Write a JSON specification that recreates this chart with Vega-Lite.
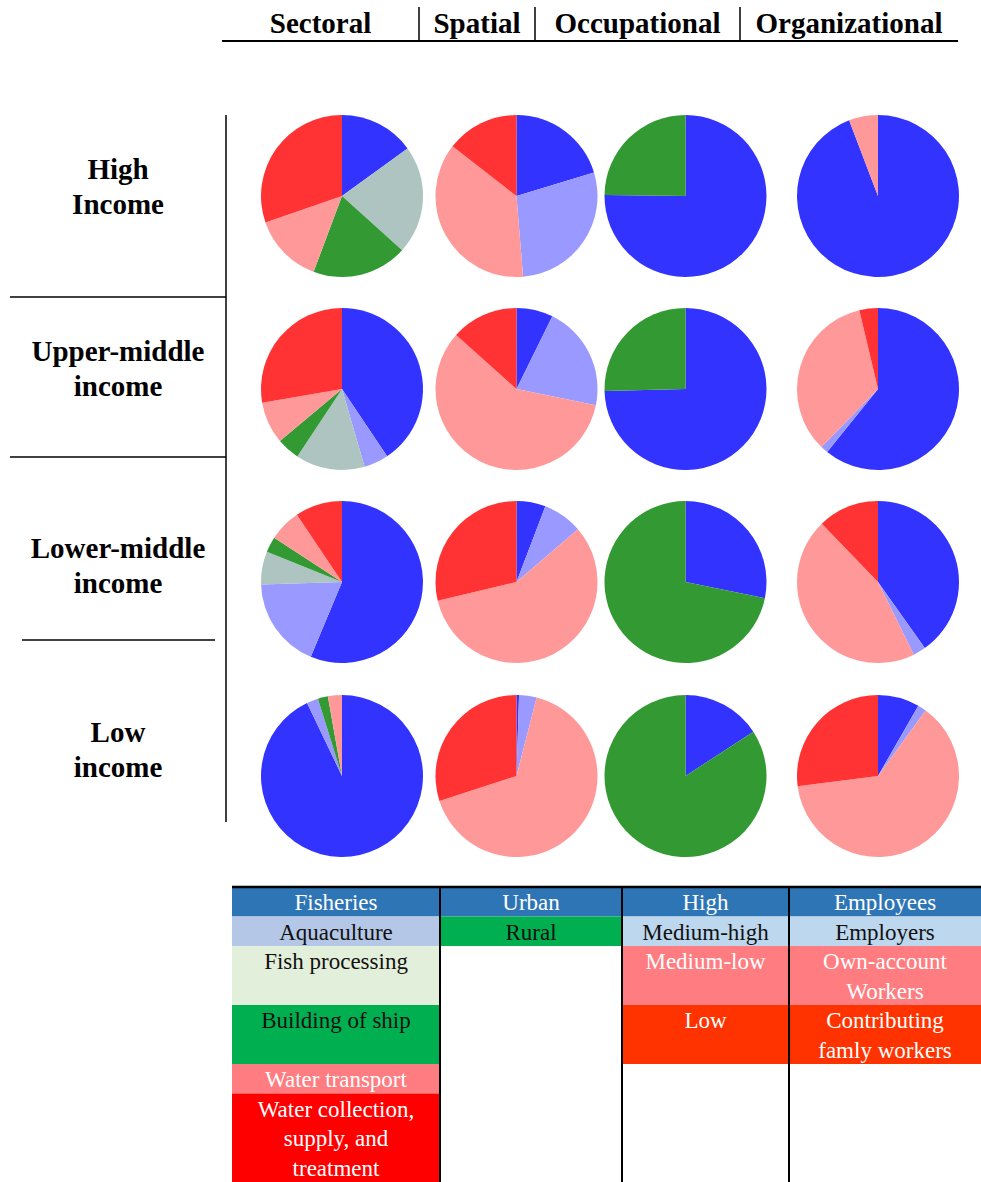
{
  "$schema": "https://vega.github.io/schema/vega-lite/v6.json",
  "width": 981,
  "height": 1182,
  "padding": 0,
  "autosize": {"type": "none"},
  "background": "white",
  "config": {"view": {"stroke": null}},
  "datasets": {
    "dims": [
      {"dimension": "Sectoral", "col": 0, "colEnd": 1},
      {"dimension": "Spatial", "col": 1, "colEnd": 2},
      {"dimension": "Occupational", "col": 2, "colEnd": 3},
      {"dimension": "Organizational", "col": 3, "colEnd": 4}
    ],
    "incomes": [
      {"income": "High Income", "row": 0},
      {"income": "Upper-middle income", "row": 1},
      {"income": "Lower-middle income", "row": 2},
      {"income": "Low income", "row": 3}
    ],
    "pies": [
      {"income": "High Income", "dimension": "Sectoral", "series": "S1", "share": 15},
      {"income": "High Income", "dimension": "Sectoral", "series": "S3", "share": 21.7},
      {"income": "High Income", "dimension": "Sectoral", "series": "S4", "share": 19},
      {"income": "High Income", "dimension": "Sectoral", "series": "S5", "share": 14},
      {"income": "High Income", "dimension": "Sectoral", "series": "S6", "share": 30.3},
      {"income": "High Income", "dimension": "Spatial", "series": "S1", "share": 20.3},
      {"income": "High Income", "dimension": "Spatial", "series": "S2", "share": 28.4},
      {"income": "High Income", "dimension": "Spatial", "series": "S5", "share": 36.8},
      {"income": "High Income", "dimension": "Spatial", "series": "S6", "share": 14.5},
      {"income": "High Income", "dimension": "Occupational", "series": "S1", "share": 75.2},
      {"income": "High Income", "dimension": "Occupational", "series": "S4", "share": 24.8},
      {"income": "High Income", "dimension": "Organizational", "series": "S1", "share": 94.2},
      {"income": "High Income", "dimension": "Organizational", "series": "S5", "share": 5.8},
      {"income": "Upper-middle income", "dimension": "Sectoral", "series": "S1", "share": 40.6},
      {"income": "Upper-middle income", "dimension": "Sectoral", "series": "S2", "share": 4.9},
      {"income": "Upper-middle income", "dimension": "Sectoral", "series": "S3", "share": 13.8},
      {"income": "Upper-middle income", "dimension": "Sectoral", "series": "S4", "share": 4.6},
      {"income": "Upper-middle income", "dimension": "Sectoral", "series": "S5", "share": 8.4},
      {"income": "Upper-middle income", "dimension": "Sectoral", "series": "S6", "share": 27.7},
      {"income": "Upper-middle income", "dimension": "Spatial", "series": "S1", "share": 7.3},
      {"income": "Upper-middle income", "dimension": "Spatial", "series": "S2", "share": 20.9},
      {"income": "Upper-middle income", "dimension": "Spatial", "series": "S5", "share": 58.4},
      {"income": "Upper-middle income", "dimension": "Spatial", "series": "S6", "share": 13.4},
      {"income": "Upper-middle income", "dimension": "Occupational", "series": "S1", "share": 74.6},
      {"income": "Upper-middle income", "dimension": "Occupational", "series": "S4", "share": 25.4},
      {"income": "Upper-middle income", "dimension": "Organizational", "series": "S1", "share": 60.8},
      {"income": "Upper-middle income", "dimension": "Organizational", "series": "S2", "share": 1.5},
      {"income": "Upper-middle income", "dimension": "Organizational", "series": "S5", "share": 34},
      {"income": "Upper-middle income", "dimension": "Organizational", "series": "S6", "share": 3.7},
      {"income": "Lower-middle income", "dimension": "Sectoral", "series": "S1", "share": 56.3},
      {"income": "Lower-middle income", "dimension": "Sectoral", "series": "S2", "share": 18.2},
      {"income": "Lower-middle income", "dimension": "Sectoral", "series": "S3", "share": 6.6},
      {"income": "Lower-middle income", "dimension": "Sectoral", "series": "S4", "share": 3.1},
      {"income": "Lower-middle income", "dimension": "Sectoral", "series": "S5", "share": 6.4},
      {"income": "Lower-middle income", "dimension": "Sectoral", "series": "S6", "share": 9.4},
      {"income": "Lower-middle income", "dimension": "Spatial", "series": "S1", "share": 5.8},
      {"income": "Lower-middle income", "dimension": "Spatial", "series": "S2", "share": 7.9},
      {"income": "Lower-middle income", "dimension": "Spatial", "series": "S5", "share": 57.6},
      {"income": "Lower-middle income", "dimension": "Spatial", "series": "S6", "share": 28.7},
      {"income": "Lower-middle income", "dimension": "Occupational", "series": "S1", "share": 28.2},
      {"income": "Lower-middle income", "dimension": "Occupational", "series": "S4", "share": 71.8},
      {"income": "Lower-middle income", "dimension": "Organizational", "series": "S1", "share": 40.2},
      {"income": "Lower-middle income", "dimension": "Organizational", "series": "S2", "share": 2.5},
      {"income": "Lower-middle income", "dimension": "Organizational", "series": "S5", "share": 45.1},
      {"income": "Lower-middle income", "dimension": "Organizational", "series": "S6", "share": 12.2},
      {"income": "Low income", "dimension": "Sectoral", "series": "S1", "share": 92.9},
      {"income": "Low income", "dimension": "Sectoral", "series": "S2", "share": 2.3},
      {"income": "Low income", "dimension": "Sectoral", "series": "S4", "share": 2.0},
      {"income": "Low income", "dimension": "Sectoral", "series": "S5", "share": 2.8},
      {"income": "Low income", "dimension": "Spatial", "series": "S1", "share": 0.5},
      {"income": "Low income", "dimension": "Spatial", "series": "S2", "share": 3.5},
      {"income": "Low income", "dimension": "Spatial", "series": "S5", "share": 66},
      {"income": "Low income", "dimension": "Spatial", "series": "S6", "share": 30},
      {"income": "Low income", "dimension": "Occupational", "series": "S1", "share": 15.8},
      {"income": "Low income", "dimension": "Occupational", "series": "S4", "share": 84.2},
      {"income": "Low income", "dimension": "Organizational", "series": "S1", "share": 8.3},
      {"income": "Low income", "dimension": "Organizational", "series": "S2", "share": 1.7},
      {"income": "Low income", "dimension": "Organizational", "series": "S5", "share": 63},
      {"income": "Low income", "dimension": "Organizational", "series": "S6", "share": 27}
    ],
    "legend": [
      {"dimension": "Sectoral", "item": "Fisheries", "start": 0, "end": 1},
      {"dimension": "Sectoral", "item": "Aquaculture", "start": 1, "end": 2},
      {"dimension": "Sectoral", "item": "Fish processing", "start": 2, "end": 4},
      {"dimension": "Sectoral", "item": "Building of ship", "start": 4, "end": 6},
      {"dimension": "Sectoral", "item": "Water transport", "start": 6, "end": 7},
      {"dimension": "Sectoral", "item": "Water collection,\nsupply, and\ntreatment", "start": 7, "end": 10},
      {"dimension": "Spatial", "item": "Urban", "start": 0, "end": 1},
      {"dimension": "Spatial", "item": "Rural", "start": 1, "end": 2},
      {"dimension": "Occupational", "item": "High", "start": 0, "end": 1},
      {"dimension": "Occupational", "item": "Medium-high", "start": 1, "end": 2},
      {"dimension": "Occupational", "item": "Medium-low", "start": 2, "end": 4},
      {"dimension": "Occupational", "item": "Low", "start": 4, "end": 6},
      {"dimension": "Organizational", "item": "Employees", "start": 0, "end": 1},
      {"dimension": "Organizational", "item": "Employers", "start": 1, "end": 2},
      {"dimension": "Organizational", "item": "Own-account\nWorkers", "start": 2, "end": 4},
      {"dimension": "Organizational", "item": "Contributing\nfamly workers", "start": 4, "end": 6}
    ]
  },
  "resolve": {"scale": {"x": "independent", "y": "independent", "color": "independent", "theta": "independent"}},
  "layer": [
    {
      "data": {"name": "dims"},
      "mark": {"type": "text", "font": "Liberation Serif", "fontWeight": "bold", "fontSize": 29, "align": "center", "baseline": "middle", "color": "black"},
      "encoding": {
        "x": {"field": "col", "type": "quantitative", "scale": {"domain": [0, 1, 2, 3], "range": [320.5, 477, 637.5, 849]}, "axis": null},
        "y": {"datum": 0, "type": "quantitative", "scale": {"domain": [0, 1], "range": [24, 60]}, "axis": null},
        "text": {"field": "dimension"}
      }
    },
    {
      "data": {"name": "dims"},
      "mark": {"type": "rule", "color": "black", "strokeWidth": 2},
      "encoding": {
        "x": {"field": "col", "type": "quantitative", "scale": {"domain": [0, 1, 2, 3, 4], "range": [222, 419, 535, 740, 958]}, "axis": null},
        "x2": {"field": "colEnd"},
        "y": {"datum": 0, "type": "quantitative", "scale": {"domain": [0, 1], "range": [41, 60]}, "axis": null}
      }
    },
    {
      "data": {"name": "dims"},
      "transform": [{"filter": "datum.col > 0"}],
      "mark": {"type": "rule", "color": "black", "strokeWidth": 1.5},
      "encoding": {
        "x": {"field": "col", "type": "quantitative", "scale": {"domain": [0, 1, 2, 3], "range": [222, 419, 535, 740]}, "axis": null},
        "y": {"datum": 0, "type": "quantitative", "scale": {"domain": [0, 1], "range": [7, 41]}, "axis": null},
        "y2": {"datum": 1}
      }
    },
    {
      "data": {"name": "incomes"},
      "mark": {"type": "text", "font": "Liberation Serif", "fontWeight": "bold", "fontSize": 29, "align": "center", "baseline": "middle", "lineBreak": " ", "lineHeight": 35, "color": "black"},
      "encoding": {
        "x": {"datum": 0, "type": "quantitative", "scale": {"domain": [0, 1], "range": [118, 200]}, "axis": null},
        "y": {"field": "row", "type": "quantitative", "scale": {"domain": [0, 1, 2, 3], "range": [170, 352, 549, 733]}, "axis": null},
        "text": {"field": "income"}
      }
    },
    {
      "data": {"name": "incomes"},
      "transform": [{"filter": "datum.row > 0 && datum.row < 3"}],
      "mark": {"type": "rule", "color": "black", "strokeWidth": 1.5},
      "encoding": {
        "y": {"field": "row", "type": "quantitative", "scale": {"domain": [1, 2], "range": [297, 457]}, "axis": null},
        "x": {"datum": 0, "type": "quantitative", "scale": {"domain": [0, 1], "range": [10, 226]}, "axis": null},
        "x2": {"datum": 1}
      }
    },
    {
      "data": {"name": "incomes"},
      "transform": [{"filter": "datum.row == 3"}],
      "mark": {"type": "rule", "color": "black", "strokeWidth": 1.5},
      "encoding": {
        "y": {"datum": 0, "type": "quantitative", "scale": {"domain": [0, 1], "range": [640, 700]}, "axis": null},
        "x": {"datum": 0, "type": "quantitative", "scale": {"domain": [0, 1], "range": [22, 215]}, "axis": null},
        "x2": {"datum": 1}
      }
    },
    {
      "data": {"name": "incomes"},
      "transform": [{"filter": "datum.row == 0"}],
      "mark": {"type": "rule", "color": "black", "strokeWidth": 1.5},
      "encoding": {
        "x": {"datum": 0, "type": "quantitative", "scale": {"domain": [0, 1], "range": [226, 300]}, "axis": null},
        "y": {"datum": 0, "type": "quantitative", "scale": {"domain": [0, 1], "range": [115, 822]}, "axis": null},
        "y2": {"datum": 1}
      }
    },
    {
      "data": {"name": "pies"},
      "transform": [
        {"lookup": "dimension", "from": {"data": {"name": "dims"}, "key": "dimension", "fields": ["col"]}},
        {"lookup": "income", "from": {"data": {"name": "incomes"}, "key": "income", "fields": ["row"]}},
        {"stack": "share", "groupby": ["income", "dimension"], "sort": [{"field": "series", "order": "ascending"}], "offset": "normalize", "as": ["t0", "t1"]}
      ],
      "mark": {"type": "arc", "outerRadius": 81, "stroke": null},
      "encoding": {
        "x": {"field": "col", "type": "quantitative", "scale": {"domain": [0, 1, 2, 3], "range": [342, 516.5, 685.5, 878]}, "axis": null},
        "y": {"field": "row", "type": "quantitative", "scale": {"domain": [0, 1, 2, 3], "range": [196, 389, 582, 776]}, "axis": null},
        "theta": {"field": "t0", "type": "quantitative", "stack": null, "scale": {"domain": [0, 1]}},
        "theta2": {"field": "t1"},
        "color": {"field": "series", "type": "nominal", "legend": null, "scale": {"domain": ["S1", "S2", "S3", "S4", "S5", "S6"], "range": ["#3333ff", "#9999ff", "#adc4c0", "#339933", "#ff9999", "#ff3333"]}}
      }
    },
    {
      "data": {"name": "legend"},
      "transform": [
        {"lookup": "dimension", "from": {"data": {"name": "dims"}, "key": "dimension", "fields": ["col", "colEnd"]}}
      ],
      "mark": {"type": "rect"},
      "encoding": {
        "x": {"field": "col", "type": "quantitative", "scale": {"domain": [0, 1, 2, 3, 4], "range": [232, 440, 622, 789, 981]}, "axis": null},
        "x2": {"field": "colEnd"},
        "y": {"field": "start", "type": "quantitative", "scale": {"domain": [0, 10], "range": [887, 1182]}, "axis": null},
        "y2": {"field": "end"},
        "color": {"field": "item", "type": "nominal", "legend": null, "scale": {
          "domain": ["Fisheries", "Aquaculture", "Fish processing", "Building of ship", "Water transport", "Water collection,\nsupply, and\ntreatment", "Urban", "Rural", "High", "Medium-high", "Medium-low", "Low", "Employees", "Employers", "Own-account\nWorkers", "Contributing\nfamly workers"],
          "range": ["#2e75b6", "#b4c7e7", "#e2efda", "#00b050", "#ff7c80", "#ff0000", "#2e75b6", "#00b050", "#2e75b6", "#bdd7ee", "#ff7c80", "#ff3300", "#2e75b6", "#bdd7ee", "#ff7c80", "#ff3300"]}}
      }
    },
    {
      "data": {"name": "legend"},
      "transform": [
        {"lookup": "dimension", "from": {"data": {"name": "dims"}, "key": "dimension", "fields": ["col"]}}
      ],
      "mark": {"type": "text", "font": "Liberation Serif", "fontSize": 23, "align": "center", "baseline": "top", "lineBreak": "\n", "lineHeight": 29.5},
      "encoding": {
        "x": {"field": "col", "type": "quantitative", "scale": {"domain": [0, 1, 2, 3], "range": [336, 531, 705.5, 885]}, "axis": null},
        "y": {"field": "start", "type": "quantitative", "scale": {"domain": [0, 10], "range": [892, 1187]}, "axis": null},
        "text": {"field": "item"},
        "color": {"field": "item", "type": "nominal", "legend": null, "scale": {
          "domain": ["Fisheries", "Aquaculture", "Fish processing", "Building of ship", "Water transport", "Water collection,\nsupply, and\ntreatment", "Urban", "Rural", "High", "Medium-high", "Medium-low", "Low", "Employees", "Employers", "Own-account\nWorkers", "Contributing\nfamly workers"],
          "range": ["#ffffff", "#111111", "#111111", "#111111", "#ffffff", "#ffffff", "#ffffff", "#111111", "#ffffff", "#111111", "#ffffff", "#ffffff", "#ffffff", "#111111", "#ffffff", "#ffffff"]}}
      }
    },
    {
      "data": {"name": "dims"},
      "mark": {"type": "rule", "color": "black", "strokeWidth": 2.5},
      "encoding": {
        "x": {"field": "col", "type": "quantitative", "scale": {"domain": [0, 1, 2, 3, 4], "range": [232, 440, 622, 789, 981]}, "axis": null},
        "x2": {"field": "colEnd"},
        "y": {"datum": 0, "type": "quantitative", "scale": {"domain": [0, 1], "range": [887, 1182]}, "axis": null}
      }
    },
    {
      "data": {"name": "dims"},
      "transform": [{"filter": "datum.col > 0"}],
      "mark": {"type": "rule", "color": "black", "strokeWidth": 2},
      "encoding": {
        "x": {"field": "col", "type": "quantitative", "scale": {"domain": [0, 1, 2, 3], "range": [232, 440, 622, 789]}, "axis": null},
        "y": {"datum": 0, "type": "quantitative", "scale": {"domain": [0, 1], "range": [887, 1182]}, "axis": null},
        "y2": {"datum": 1}
      }
    }
  ]
}
